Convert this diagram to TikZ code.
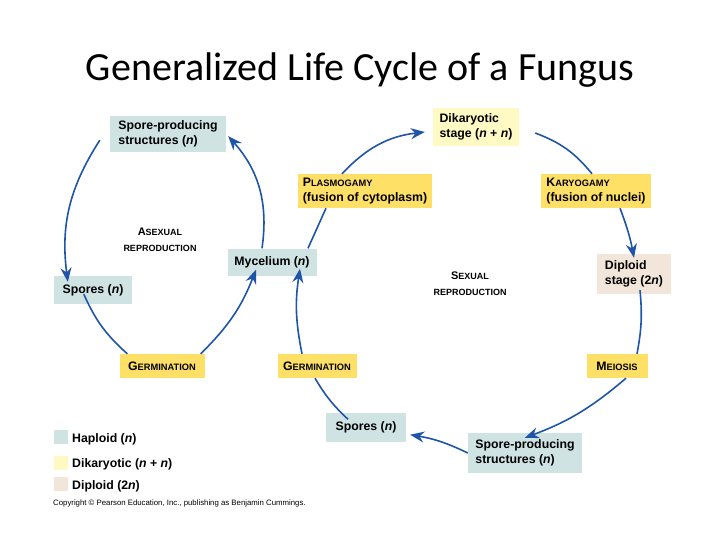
\documentclass[tikz,border=0pt]{standalone}
\usepackage{fontspec}
\setmainfont{Liberation Sans}
\newfontfamily\titlefont{Carlito}
\usetikzlibrary{arrows.meta}
\definecolor{hap}{HTML}{CFE3E3}
\definecolor{dika}{HTML}{FFFAC4}
\definecolor{gold}{HTML}{FFE066}
\definecolor{dip}{HTML}{F2E6DA}
\definecolor{arr}{HTML}{1F55A8}
\tikzset{
 box/.style={inner sep=2pt,align=left,font=\bfseries\fontsize{12.3}{14.5}\selectfont},
 hapb/.style={box,fill=hap},
 dikb/.style={box,fill=dika},
 goldb/.style={box,fill=gold},
 dipb/.style={box,fill=dip},
 lbl/.style={align=center,font=\bfseries\fontsize{11}{16}\selectfont},
 con/.style={arr,line width=1.6pt},
 arw/.style={con,-{Stealth[length=14pt,width=11pt]}},
}
\newcommand{\sm}[1]{{\fontsize{9.3}{11}\selectfont #1}}
\newcommand{\smm}[1]{{\fontsize{9}{12}\selectfont #1}}
\begin{document}
\begin{tikzpicture}[x=1pt,y=-1pt]
\useasboundingbox[fill=white] (0,0) rectangle (720,540);
\node[font=\titlefont\fontsize{40}{44}\selectfont] (title) at (360,70) {Generalized Life Cycle of a Fungus};
\node[hapb,minimum width=116pt,minimum height=36pt] (sp1) at (168,134) {Spore-producing\\structures (\textit{n})};
\node[dikb,minimum width=86pt,minimum height=38pt] (dik) at (476,127) {Dikaryotic\\stage (\textit{n} + \textit{n})};
\node[goldb,minimum width=134pt,minimum height=34pt] (plas) at (365,191) {P\sm{LASMOGAMY}\\(fusion of cytoplasm)};
\node[goldb,minimum width=110pt,minimum height=34pt] (kary) at (596,191) {K\sm{ARYOGAMY}\\(fusion of nuclei)};
\node[lbl] (asex) at (160,240) {A\smm{SEXUAL}\\\smm{REPRODUCTION}};
\node[hapb,minimum width=89pt,minimum height=27pt] (myc) at (272,262) {Mycelium (\textit{n})};
\node[dipb,minimum width=74pt,minimum height=40pt] (dip) at (634,274) {Diploid\\stage (2\textit{n})};
\node[hapb,minimum width=78pt,minimum height=28pt] (spl) at (93,290) {Spores (\textit{n})};
\node[lbl] (sex) at (470,284) {S\smm{EXUAL}\\\smm{REPRODUCTION}};
\node[goldb,minimum width=85pt,minimum height=24pt] (g1) at (162,366) {G\sm{ERMINATION}};
\node[goldb,minimum width=79pt,minimum height=24pt] (g2) at (317,366) {G\sm{ERMINATION}};
\node[goldb,minimum width=61pt,minimum height=24pt] (mei) at (617,366) {M\sm{EIOSIS}};
\node[hapb,minimum width=80pt,minimum height=29pt] (spb) at (366,427) {Spores (\textit{n})};
\node[hapb,minimum width=114pt,minimum height=40pt] (sp2) at (525,453) {Spore-producing\\structures (\textit{n})};
% connectors
\draw[arw] ([xshift=-10pt,yshift=12pt]sp1.south west) to[bend right=20] ([xshift=14pt,yshift=-6pt]spl.north west);
\draw[con] ([xshift=30pt,yshift=10pt]spl.south west) to[bend right=12] ([xshift=8pt]g1.north west);
\draw[arw] ([xshift=-4pt]g1.north east) to[bend right=12] ([xshift=-16pt,yshift=6pt]myc.south);
\draw[arw] ([xshift=-10pt]myc.north) to[bend right=25] ([xshift=2pt,yshift=16pt]sp1.south east);
\draw[con] ([xshift=36pt]myc.north) to ([xshift=-39pt]plas.south);
\draw[arw] ([xshift=-23pt]plas.north) to[bend left=20] ([xshift=-8pt,yshift=-5pt]dik.west);
\draw[con] ([xshift=16pt,yshift=-6pt]dik.east) to[bend left=15] ([xshift=-4pt]kary.north);
\draw[arw] ([xshift=24pt]kary.south) to[bend left=5] ([yshift=-4pt]dip.north);
\draw[con] ([xshift=6pt,yshift=4pt]dip.south) to[bend left=8] ([xshift=20pt]mei.north);
\draw[arw] ([xshift=9pt]mei.south) to[bend left=10] ([xshift=57pt,yshift=-5pt]sp2.north west);
\draw[arw] (sp2.west) to[bend right=8] ([xshift=4pt,yshift=7pt]spb.south east);
\draw[con] ([xshift=-18pt,yshift=-7pt]spb.north) to[bend left=8] ([xshift=-2pt]g2.south);
\draw[arw] ([xshift=-15pt]g2.north) to[bend left=10] ([xshift=28pt,yshift=7pt]myc.south);
% legend
\node[fill=hap,minimum size=14pt,inner sep=0] (lh) at (61,437) {};
\node[fill=dika,minimum size=14pt,inner sep=0] (ld) at (61,463) {};
\node[fill=dip,minimum size=14pt,inner sep=0] (lp) at (61,484) {};
\node[box,inner sep=0,anchor=west] (th) at (72,439) {Haploid (\textit{n})};
\node[box,inner sep=0,anchor=west] (td) at (72,464) {Dikaryotic (\textit{n} + \textit{n})};
\node[box,inner sep=0,anchor=west] (tp) at (72,486) {Diploid (2\textit{n})};
\node[inner sep=0,anchor=west,font=\fontsize{7.8}{9}\selectfont] (cp) at (53,503) {Copyright © Pearson Education, Inc., publishing as Benjamin Cummings.};
\end{tikzpicture}
\end{document}
